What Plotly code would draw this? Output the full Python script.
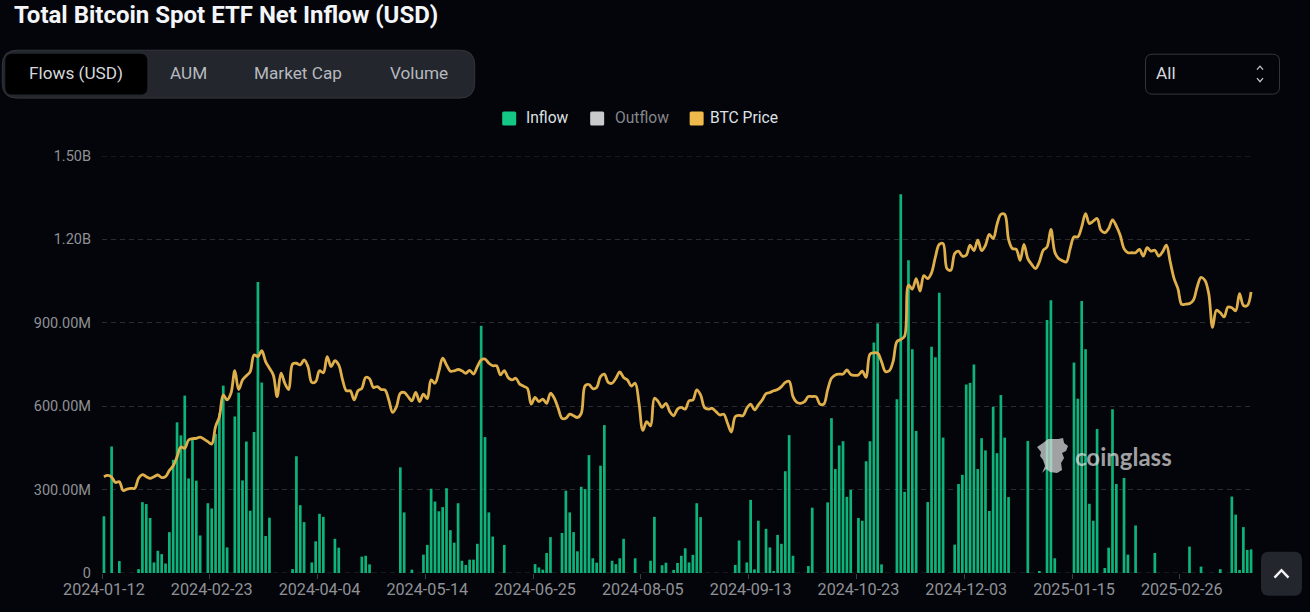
import pandas as pd
import plotly.graph_objects as go

TITLE = "Total Bitcoin Spot ETF Net Inflow (USD)"
TABS = ["Flows (USD)", "AUM", "Market Cap", "Volume"]
Y_TICKS = [0, 300, 600, 900, 1200, 1500]
Y_LABELS = ["0", "300.00M", "600.00M", "900.00M", "1.20B", "1.50B"]
HOLIDAYS = ["2024-01-15", "2024-02-19", "2024-03-29", "2024-05-27", "2024-06-19", "2024-07-04",
            "2024-09-02", "2024-11-28", "2024-12-25", "2025-01-01", "2025-01-09", "2025-01-20", "2025-02-17"]
dates = [d.strftime("%Y-%m-%d") for d in pd.bdate_range("2024-01-12", "2025-03-24") if d.strftime("%Y-%m-%d") not in HOLIDAYS]

# Net inflow, millions of USD, one value per trading day
inflow_musd = [
    204, 0, 455, 0, 43, 0, 0, 0, 0, 14,
    255, 248, 198, 38, 80, 68, 34, 147, 407, 542,
    495, 638, 340, 479, 332, 135, 0, 251, 232, 500,
    575, 674, 92, 0, 563, 649, 333, 473, 224, 507,
    1047, 685, 133, 199, 0, 0, 0, 0, 0, 14,
    420, 244, 183, 0, 38, 114, 213, 202, 0, 0,
    123, 91, 0, 0, 0, 0, 0, 59, 62, 31,
    0, 0, 0, 0, 0, 0, 0, 380, 218, 0,
    12, 0, 0, 66, 101, 303, 257, 222, 237, 305,
    154, 109, 251, 44, 29, 48, 48, 105, 889, 489,
    218, 131, 0, 0, 101, 0, 0, 0, 0, 0,
    0, 0, 32, 20, 12, 72, 129, 0, 0, 144,
    296, 218, 147, 78, 310, 302, 424, 53, 37, 386,
    532, 0, 44, 32, 53, 123, 0, 0, 53, 0,
    0, 0, 44, 202, 0, 28, 37, 0, 11, 36,
    62, 89, 38, 65, 251, 201, 0, 0, 0, 0,
    0, 0, 0, 0, 29, 117, 0, 38, 263, 13,
    188, 0, 159, 92, 4, 137, 105, 366, 496, 62,
    0, 0, 0, 25, 235, 0, 0, 0, 254, 557,
    374, 459, 474, 274, 299, 0, 198, 188, 402, 474,
    829, 898, 31, 0, 0, 0, 625, 1362, 292, 1125,
    805, 511, 0, 0, 255, 814, 776, 1008, 487, 0,
    0, 102, 320, 353, 678, 684, 750, 374, 485, 441,
    223, 598, 431, 640, 487, 273, 0, 0, 0, 0,
    475, 0, 0, 4, 0, 910, 981, 53, 0, 0,
    0, 0, 757, 627, 978, 805, 249, 188, 518, 0,
    18, 91, 589, 320, 0, 342, 66, 0, 171, 0,
    0, 0, 0, 72, 0, 0, 0, 0, 0, 0,
    0, 0, 95, 0, 0, 23, 0, 0, 0, 0,
    14, 0, 0, 275, 210, 11, 165, 83, 85,
]

# BTC price, thousands of USD, one value per trading day
btc_kusd = [
    43.1, 43.4, 43.0, 41.7, 41.9, 39.8, 40.1, 40.3, 40.3, 42.7,
    43.6, 43.1, 42.7, 43.1, 43.5, 42.9, 43.1, 44.6, 45.7, 47.9,
    50.2, 49.9, 51.9, 52.2, 52.3, 52.6, 52.1, 51.5, 50.9, 55.1,
    57.5, 62.7, 61.5, 63.1, 68.5, 64.0, 66.3, 67.3, 68.3, 72.3,
    71.9, 73.3, 70.7, 69.1, 67.5, 62.3, 67.9, 65.5, 64.0, 70.1,
    70.3, 69.9, 71.1, 69.5, 65.7, 65.9, 68.5, 68.0, 71.9, 69.5,
    70.9, 69.9, 66.3, 63.7, 63.7, 61.5, 63.7, 64.3, 66.9, 66.6,
    64.5, 64.7, 64.0, 63.9, 61.5, 58.5, 59.9, 63.1, 63.3, 62.3,
    61.3, 63.3, 61.1, 62.9, 61.8, 66.3, 65.5, 68.3, 71.5, 69.9,
    68.4, 68.5, 68.8, 68.5, 67.9, 68.6, 67.7, 69.5, 71.1, 71.3,
    70.3, 69.7, 69.7, 67.5, 68.5, 66.9, 66.3, 66.7, 65.3, 64.8,
    64.3, 60.5, 62.1, 61.1, 61.7, 60.7, 63.1, 61.9, 59.5, 57.1,
    57.1, 58.1, 57.7, 57.3, 58.3, 64.9, 65.2, 64.2, 64.5, 67.1,
    67.7, 65.7, 65.5, 66.7, 68.2, 66.9, 66.3, 64.8, 65.5, 60.7,
    54.2, 56.3, 55.3, 61.9, 61.1, 59.7, 60.7, 58.7, 57.7, 59.3,
    59.7, 59.3, 61.3, 61.5, 63.9, 62.7, 59.7, 59.3, 59.5, 58.7,
    57.9, 58.1, 55.9, 53.8, 57.5, 57.8, 57.7, 59.5, 60.5, 59.1,
    60.3, 61.5, 63.0, 63.3, 63.7, 64.0, 64.7, 65.7, 66.0, 62.3,
    60.9, 60.7, 61.1, 62.3, 62.3, 62.3, 60.5, 60.5, 63.9, 66.7,
    67.5, 67.7, 67.7, 68.7, 67.6, 67.4, 67.5, 68.4, 66.9, 72.5,
    72.8, 72.7, 70.7, 68.3, 68.5, 70.7, 75.5, 76.0, 76.8, 89.0,
    88.1, 90.6, 87.6, 91.3, 90.6, 92.0, 95.8, 98.8, 99.0, 93.0,
    92.6, 96.6, 97.2, 96.0, 96.2, 98.6, 97.3, 99.8, 97.3, 98.6,
    101.2, 100.2, 103.6, 106.0, 106.0, 100.0, 97.8, 97.6, 95.0, 98.8,
    95.4, 94.0, 93.0, 94.6, 97.4, 98.2, 102.4, 97.0, 95.4, 94.9,
    94.6, 97.8, 100.6, 100.6, 103.0, 106.2, 103.8, 104.4, 105.0, 102.2,
    101.6, 102.6, 104.7, 103.2, 101.0, 97.8, 96.8, 96.8, 96.8, 97.6,
    96.0, 98.0, 97.2, 97.4, 96.0, 97.0, 98.6, 94.6, 90.6, 88.2,
    84.4, 84.5, 84.6, 85.4, 88.6, 90.9, 90.2, 87.0, 78.9, 83.0,
    82.4, 81.4, 83.8, 83.6, 82.9, 87.0, 84.2, 84.1, 87.4,
]
assert len(dates) == len(inflow_musd) == len(btc_kusd) == 299

BG = "#03050a"
GRID = "#2a2c31"
L, R, T, B = 101.7, 1253.0, 155.5, 573.3
W, H = 1310, 612


def px(x):
    return (x - L) / (R - L)


def py(y):
    return (B - y) / (B - T)


def pts(seq):
    return " L ".join(f"{px(x):.5f},{py(y):.5f}" for x, y in seq)


def rrect(x0, y0, x1, y1, r):
    a, b, c, d = px(x0), px(x1), py(y0), py(y1)
    rx, ry = r / (R - L), r / (B - T)
    return (f"M {a+rx:.5f},{c:.5f} L {b-rx:.5f},{c:.5f} Q {b:.5f},{c:.5f} {b:.5f},{c-ry:.5f} "
            f"L {b:.5f},{d+ry:.5f} Q {b:.5f},{d:.5f} {b-rx:.5f},{d:.5f} L {a+rx:.5f},{d:.5f} "
            f"Q {a:.5f},{d:.5f} {a:.5f},{d+ry:.5f} L {a:.5f},{c-ry:.5f} Q {a:.5f},{c:.5f} {a+rx:.5f},{c:.5f} Z")


shapes = []


def add_rect(x0, y0, x1, y1, r, fill, line="rgba(0,0,0,0)", layer="below"):
    shapes.append(dict(type="path", path=rrect(x0, y0, x1, y1, r), xref="paper", yref="paper",
                       fillcolor=fill, line=dict(color=line, width=1), layer=layer))


def add_poly(seq, color, width=1.5, fill=None, closed=False, layer="above", opacity=1.0):
    path = "M " + pts(seq) + (" Z" if closed else "")
    shapes.append(dict(type="path", path=path, xref="paper", yref="paper", opacity=opacity,
                       fillcolor=fill if fill else "rgba(0,0,0,0)",
                       line=dict(color=color, width=width), layer=layer))


annotations = []


def add_text(x, y, text, size, color, anchor="left", family="Roboto"):
    annotations.append(dict(x=px(x), y=py(y), xref="paper", yref="paper", text=text, showarrow=False,
                            xanchor=anchor, yanchor="middle", font=dict(family=family, size=size, color=color)))


# Edge gridlines (plotly drops gridlines sitting on the plot boundary)
for edge in [Y_TICKS[0], Y_TICKS[-1]]:
    shapes.append(dict(type="line", xref="paper", x0=0, x1=1, yref="y", y0=edge, y1=edge, layer="below",
                       line=dict(color=GRID, width=1, dash="5px,4px")))

# Heading and controls
add_text(12, 14, f"<b>{TITLE}</b>", 24, "#f3f5f9")
add_rect(2, 49.5, 474.5, 97.5, 15, "#23262c", "#33363c")
add_rect(5, 53, 147, 94, 7, "#000000")
for label, cx, col in zip(TABS, [76, 188.5, 297.5, 418.5], ["#d6d8dc", "#b6b9bf", "#b6b9bf", "#b6b9bf"]):
    add_text(cx, 72.2, label, 17.2, col, anchor="center")
add_rect(1145.5, 53.5, 1279.5, 93.5, 7, "rgba(0,0,0,0)", "#33363c")
add_text(1154, 72.2, "All", 17.2, "#d6d8dc")
add_poly([(1257, 69), (1260, 65.5), (1263, 69)], "#c4c6ca", 1.3)
add_poly([(1257, 77.5), (1260, 81), (1263, 77.5)], "#c4c6ca", 1.3)
add_rect(1261, 552, 1302, 596, 8, "#23262c", layer="above")
add_poly([(1274.5, 578), (1281.5, 570.5), (1288.5, 578)], "#f0f1f3", 2.5)

# Legend
for x0, fill, tx, label, col in [(502, "#14c784", 524, "Inflow", "#dfe1e4"),
                                 (590, "#c9cacc", 612.5, "Outflow", "#85878b"),
                                 (689.5, "#efb94c", 707.5, "BTC Price", "#dfe1e4")]:
    add_rect(x0, 111, x0 + 14, 125, 1.5, fill)
    add_text(tx, 117.5, label, 15.6, col)

# Watermark
logo = [(1037, 447), (1043, 443), (1048, 439), (1058, 439), (1063, 438), (1064, 443), (1068, 446),
        (1066, 451), (1062, 453), (1064, 458), (1061, 463), (1062, 470), (1057, 473), (1050, 472),
        (1046, 469), (1042, 473), (1045, 466), (1043, 460), (1040, 456), (1041, 452)]
add_poly(logo, "rgba(0,0,0,0)", 0, fill="rgba(222,222,222,0.72)", closed=True)
add_text(1073, 456.5, "<b>coinglass</b>", 24, "rgba(222,222,222,0.72)", family="Lato")

fig = go.Figure()
fig.add_trace(go.Bar(x=dates, y=inflow_musd, name="Inflow", marker=dict(color="#0eb37a", line=dict(width=0))))
fig.add_trace(go.Scatter(x=dates, y=btc_kusd, name="BTC Price", yaxis="y2", mode="lines",
                         line=dict(color="#dfaf4b", width=2.8, shape="spline", smoothing=1.0)))

fig.update_layout(
    width=W, height=H, autosize=False, showlegend=False, plot_bgcolor=BG, paper_bgcolor=BG,
    margin=dict(l=L, r=W - R, t=T, b=H - B, pad=0), bargap=0.3,
    shapes=shapes, annotations=annotations,
    font=dict(family="Roboto"),
    xaxis=dict(type="category", categoryorder="array", categoryarray=dates, range=[-0.5, 298.5],
               tickmode="linear", tick0=0, dtick=28, tickson="boundaries", ticks="outside", ticklen=5,
               tickcolor="#3a3d43", tickwidth=1, showgrid=False, zeroline=False, ticklabelstandoff=5,
               showline=False, tickangle=0, tickfont=dict(family="Roboto", size=16.2, color="#8f9196")),
    yaxis=dict(range=[0, 1500], tickmode="array", tickvals=Y_TICKS, ticktext=Y_LABELS,
               showgrid=True, gridcolor=GRID, griddash="5px,4px", gridwidth=1, zeroline=False,
               showline=False, ticks="", ticklabelstandoff=10,
               tickfont=dict(family="Roboto", size=14.5, color="#8f9196")),
    yaxis2=dict(range=[20, 120], overlaying="y", side="right", visible=False),
)

fig.write_html("out.html", config={"displayModeBar": False},
               post_script="document.body.style.margin='0';document.body.style.overflow='hidden';document.body.style.background='" + BG + "';")
